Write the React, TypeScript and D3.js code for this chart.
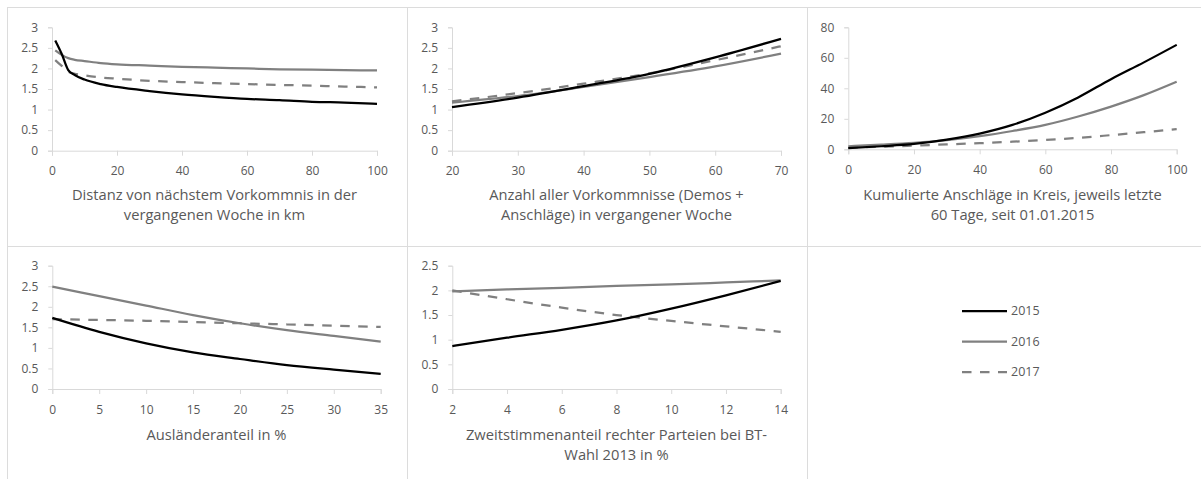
import React, { useEffect, useRef } from 'react';
import * as d3 from "d3";

// legend / series names
const years = ["2015", "2016", "2017"];

// Distanz von nächstem Vorkommnis
const distX = [1, 3, 5, 7, 10, 15, 20, 30, 40, 50, 60, 70, 80, 90, 100];
const dist2015 = [2.68, 2.35, 1.96, 1.84, 1.73, 1.62, 1.55, 1.45, 1.37, 1.31, 1.26, 1.23, 1.19, 1.17, 1.14];
const dist2016 = [2.44, 2.33, 2.25, 2.21, 2.18, 2.13, 2.1, 2.07, 2.04, 2.02, 2.0, 1.98, 1.97, 1.96, 1.95];
const dist2017 = [2.2, 2.06, 1.92, 1.87, 1.83, 1.78, 1.75, 1.7, 1.67, 1.64, 1.62, 1.6, 1.58, 1.56, 1.54];

// Anzahl aller Vorkommnisse
const countX = [20, 30, 40, 50, 60, 70];
const count2015 = [1.06, 1.29, 1.57, 1.87, 2.27, 2.72];
const count2016 = [1.17, 1.33, 1.55, 1.79, 2.05, 2.36];
const count2017 = [1.2, 1.4, 1.63, 1.88, 2.2, 2.54];

// Kumulierte Anschläge
const attackX = [0, 10, 20, 30, 40, 50, 60, 70, 80, 90, 100];
const attack2015 = [0.8, 2, 3.5, 6.3, 10.3, 16, 24, 34, 46, 57, 68.5];
const attack2016 = [2, 3, 4.2, 6, 8.6, 12, 16, 21.5, 28, 35.5, 44.3];
const attack2017 = [1, 1.7, 2.4, 3.2, 4, 5, 6.1, 7.5, 9.3, 11.2, 13.3];

// Ausländeranteil
const foreignX = [0, 5, 10, 15, 20, 25, 30, 35];
const foreign2015 = [1.73, 1.39, 1.11, 0.89, 0.73, 0.58, 0.47, 0.37];
const foreign2016 = [2.49, 2.26, 2.03, 1.8, 1.6, 1.43, 1.29, 1.15];
const foreign2017 = [1.7, 1.68, 1.66, 1.63, 1.6, 1.57, 1.54, 1.51];

// Zweitstimmenanteil rechter Parteien
const voteX = [2, 4, 6, 8, 10, 12, 14];
const vote2015 = [0.87, 1.04, 1.2, 1.39, 1.63, 1.9, 2.19];
const vote2016 = [1.98, 2.02, 2.05, 2.09, 2.12, 2.16, 2.2];
const vote2017 = [2.0, 1.82, 1.65, 1.5, 1.38, 1.27, 1.16];

// tick labels
const ticks0to3 = [0, 0.5, 1, 1.5, 2, 2.5, 3];
const ticks0to25 = [0, 0.5, 1, 1.5, 2, 2.5];
const ticks0to80 = [0, 20, 40, 60, 80];
const ticks0to100 = [0, 20, 40, 60, 80, 100];
const ticks20to70 = [20, 30, 40, 50, 60, 70];
const ticks0to35 = [0, 5, 10, 15, 20, 25, 30, 35];
const ticks2to14 = [2, 4, 6, 8, 10, 12, 14];

const FONT = "'Open Sans', sans-serif";
const TEXT = "#595959";
const AXIS = "#d9d9d9";
const styles = [
  { color: "#000000", dash: null },
  { color: "#808080", dash: null },
  { color: "#808080", dash: "9.5,8.5" },
];

interface Panel {
  left: number; right: number; top: number; bottom: number;
  xDomain: [number, number]; yDomain: [number, number];
  xTicks: number[]; yTicks: number[];
  xs: number[]; series: number[][];
  title: string[]; titleY: number;
}

const panels: Panel[] = [
  {
    left: 52, right: 377, top: 27.3, bottom: 150.7,
    xDomain: [0, 100], yDomain: [0, 3], xTicks: ticks0to100, yTicks: ticks0to3,
    xs: distX, series: [dist2015, dist2016, dist2017],
    title: ["Distanz von nächstem Vorkommnis in der", "vergangenen Woche in km"], titleY: 200,
  },
  {
    left: 452, right: 781, top: 27.3, bottom: 150.7,
    xDomain: [20, 70], yDomain: [0, 3], xTicks: ticks20to70, yTicks: ticks0to3,
    xs: countX, series: [count2015, count2016, count2017],
    title: ["Anzahl aller Vorkommnisse (Demos +", "Anschläge) in vergangener Woche"], titleY: 200,
  },
  {
    left: 848.3, right: 1176.7, top: 27.3, bottom: 149.3,
    xDomain: [0, 100], yDomain: [0, 80], xTicks: ticks0to100, yTicks: ticks0to80,
    xs: attackX, series: [attack2015, attack2016, attack2017],
    title: ["Kumulierte Anschläge in Kreis, jeweils letzte", "60 Tage, seit 01.01.2015"], titleY: 200,
  },
  {
    left: 52.3, right: 380.7, top: 265.7, bottom: 389,
    xDomain: [0, 35], yDomain: [0, 3], xTicks: ticks0to35, yTicks: ticks0to3,
    xs: foreignX, series: [foreign2015, foreign2016, foreign2017],
    title: ["Ausländeranteil in %"], titleY: 440,
  },
  {
    left: 452.3, right: 780.7, top: 265.7, bottom: 389,
    xDomain: [2, 14], yDomain: [0, 2.5], xTicks: ticks2to14, yTicks: ticks0to25,
    xs: voteX, series: [vote2015, vote2016, vote2017],
    title: ["Zweitstimmenanteil rechter Parteien bei BT-", "Wahl 2013 in %"], titleY: 440,
  },
];

function drawChart(node: SVGSVGElement) {
  const svg = d3.select(node);
  svg.selectAll("*").remove();

  svg.append("rect").attr("width", 1201).attr("height", 479).attr("fill", "#fff");

  // table borders
  const grid = svg.append("g").attr("stroke", "#dcdcdc").attr("stroke-width", 1);
  [7.5, 246.5].forEach(y => {
    grid.append("line").attr("x1", 7).attr("x2", 1201).attr("y1", y).attr("y2", y);
  });
  [7.5, 407.5, 807.5].forEach(x => {
    grid.append("line").attr("x1", x).attr("x2", x).attr("y1", 7).attr("y2", 479);
  });

  panels.forEach(p => {
    const x = d3.scaleLinear().domain(p.xDomain).range([p.left, p.right]);
    const y = d3.scaleLinear().domain(p.yDomain).range([p.bottom, p.top]);
    const g = svg.append("g");

    // y axis
    const yAxis = g.append("g")
      .attr("transform", "translate(" + p.left + ",0)")
      .call(d3.axisLeft(y).tickValues(p.yTicks).tickSize(4).tickPadding(10).tickFormat(d => String(d)));
    // x axis
    const xAxis = g.append("g")
      .attr("transform", "translate(0," + p.bottom + ")")
      .call(d3.axisBottom(x).tickValues(p.xTicks).tickSize(5).tickPadding(11).tickFormat(d => String(d)));

    [yAxis, xAxis].forEach(a => {
      a.select(".domain").attr("stroke", AXIS).attr("stroke-width", 1);
      a.selectAll(".tick line").attr("stroke", AXIS);
      a.selectAll(".tick text")
        .attr("fill", TEXT)
        .attr("font-family", FONT)
        .attr("font-size", "12px");
    });

    // lines, drawn back to front so 2015 ends up on top
    const line = d3.line<number>()
      .x((d, i) => x(p.xs[i]))
      .y(d => y(d))
      .curve(d3.curveMonotoneX);

    p.series.slice().reverse().forEach((s, ri) => {
      const st = styles[p.series.length - 1 - ri];
      g.append("path")
        .datum(s)
        .attr("fill", "none")
        .attr("stroke", st.color)
        .attr("stroke-width", 2.25)
        .attr("stroke-dasharray", st.dash)
        .attr("d", line);
    });

    // axis title
    const cx = (p.left + p.right) / 2;
    p.title.forEach((t, i) => {
      g.append("text")
        .attr("x", cx)
        .attr("y", p.titleY + i * 20)
        .attr("text-anchor", "middle")
        .attr("fill", TEXT)
        .attr("font-family", FONT)
        .attr("font-size", "14.7px")
        .text(t);
    });
  });

  // legend
  const legend = svg.append("g");
  years.forEach((yr, i) => {
    const ly = 311 + i * 30.5;
    legend.append("line")
      .attr("x1", 962).attr("x2", 1007)
      .attr("y1", ly).attr("y2", ly)
      .attr("stroke", styles[i].color)
      .attr("stroke-width", 2.25)
      .attr("stroke-dasharray", styles[i].dash);
    legend.append("text")
      .attr("x", 1011)
      .attr("y", ly)
      .attr("dy", "0.35em")
      .attr("fill", TEXT)
      .attr("font-family", FONT)
      .attr("font-size", "12.5px")
      .text(yr);
  });
}

export default function App() {
  const ref = useRef<SVGSVGElement>(null);

  useEffect(() => {
    if (ref.current == null) return;
    drawChart(ref.current);
  }, []);

  return (
    <svg ref={ref} width={1201} height={479}
      style={{ position: "absolute", left: 0, top: 0, display: "block" }} />
  );
}
